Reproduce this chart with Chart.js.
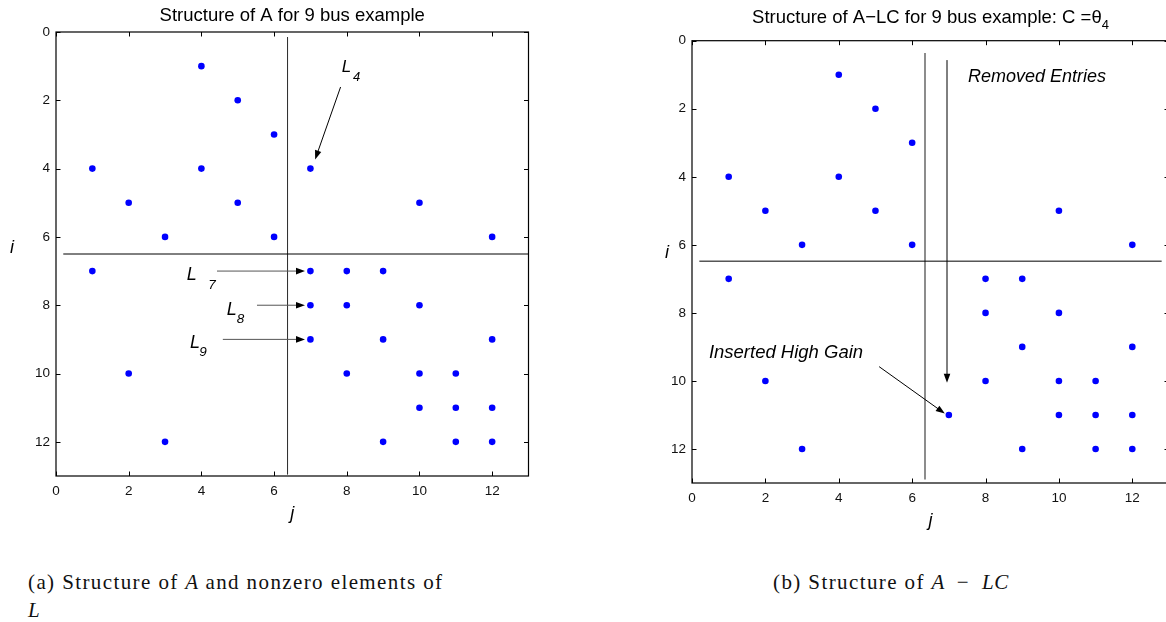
<!DOCTYPE html>
<html>
<head>
<meta charset="utf-8">
<title>Structure of A and A-LC</title>
<script src="https://cdn.jsdelivr.net/npm/chart.js@4.4.1/dist/chart.umd.min.js"></script>
<style>
    html, body { margin: 0; padding: 0; background: #fff; width: 1166px; height: 622px; overflow: hidden; }
    .panel { position: absolute; top: 0; }
    #panelA { left: 0; }
    #panelB { left: 636px; }
    .caption { position: absolute; font-family: "Liberation Serif", "Times New Roman", serif; font-size: 21px; line-height: 28px; color: #111; letter-spacing: 1.4px; white-space: nowrap; }
    .caption i { letter-spacing: 0.6px; }
</style>
</head>
<body>
<div class="panel" id="panelA"><canvas id="chartA" width="560" height="530"></canvas></div>
<div class="panel" id="panelB"><canvas id="chartB" width="560" height="530"></canvas></div>
<div class="caption" style="left:28px; top:568px;">(a) Structure of <i>A</i> and nonzero elements of<br><i>L</i></div>
<div class="caption" style="left:773px; top:568px;">(b) Structure of <i>A</i>&ensp;&minus;&ensp;<i>LC</i></div>

<script>
// ---- data -------------------------------------------------------------
const tickValues = [0, 2, 4, 6, 8, 10, 12];

// nonzero entries of A: column j, row i
const colsA = [4, 5, 6, 1, 4, 7, 2, 5, 10, 3, 6, 12, 1, 7, 8, 9, 7, 8, 10, 7, 9, 12, 2, 8, 10, 11, 10, 11, 12, 3, 9, 11, 12];
const rowsA = [1, 2, 3, 4, 4, 4, 5, 5, 5, 6, 6, 6, 7, 7, 7, 7, 8, 8, 8, 9, 9, 9, 10, 10, 10, 10, 11, 11, 11, 12, 12, 12, 12];

// nonzero entries of A - LC (column 7 entries removed, one high gain inserted)
const colsALC = [4, 5, 6, 1, 4, 2, 5, 10, 3, 6, 12, 1, 8, 9, 8, 10, 9, 12, 2, 8, 10, 11, 7, 10, 11, 12, 3, 9, 11, 12];
const rowsALC = [1, 2, 3, 4, 4, 5, 5, 5, 6, 6, 6, 7, 7, 7, 8, 8, 9, 9, 10, 10, 10, 10, 11, 11, 11, 11, 12, 12, 12, 12];

// partition lines between state blocks
const splitA   = { hj: [0.2, 13],   hi: [6.5, 6.5],   vj: [6.37, 6.37], vi: [0.15, 12.95] };
const splitALC = { hj: [0.2, 12.8], hi: [6.48, 6.48], vj: [6.35, 6.35], vi: [0.36, 12.9] };

const toPoints = (xs, ys) => xs.map((v, k) => ({ x: v, y: ys[k] }));

// ---- drawing helpers --------------------------------------------------
function drawArrow(ctx, x0, y0, x1, y1, color, headColor) {
    const ang = Math.atan2(y1 - y0, x1 - x0);
    const len = 9, half = 3.3;
    ctx.strokeStyle = color;
    ctx.lineWidth = 1;
    ctx.beginPath();
    ctx.moveTo(x0, y0);
    ctx.lineTo(x1 - Math.cos(ang) * len * 0.8, y1 - Math.sin(ang) * len * 0.8);
    ctx.stroke();
    ctx.fillStyle = headColor;
    ctx.beginPath();
    ctx.moveTo(x1, y1);
    ctx.lineTo(x1 - Math.cos(ang) * len - Math.sin(ang) * half, y1 - Math.sin(ang) * len + Math.cos(ang) * half);
    ctx.lineTo(x1 - Math.cos(ang) * len + Math.sin(ang) * half, y1 - Math.sin(ang) * len - Math.cos(ang) * half);
    ctx.closePath();
    ctx.fill();
}

// title with optional subscript pieces, centred on the plot area
function drawTitle(ctx, parts, cx, baseline) {
    const main = '18.5px "Liberation Sans", Arial, sans-serif';
    const sub = '13px "Liberation Sans", Arial, sans-serif';
    let total = 0;
    parts.forEach(p => { ctx.font = p.sub ? sub : main; total += ctx.measureText(p.text).width; });
    let x = cx - total / 2;
    ctx.fillStyle = '#000';
    ctx.textAlign = 'left';
    ctx.textBaseline = 'alphabetic';
    parts.forEach(p => {
        ctx.font = p.sub ? sub : main;
        ctx.fillText(p.text, x, p.sub ? baseline + 6 : baseline);
        x += ctx.measureText(p.text).width;
    });
}

// MATLAB-like box: frame, inward ticks on all four sides, labels and annotations
const matlabBox = {
    id: 'matlabBox',
    afterDatasetsDraw(chart, args, opts) {
        const { ctx, chartArea: a, scales: { x, y } } = chart;
        ctx.save();

        ctx.strokeStyle = '#000';
        ctx.lineWidth = 1.2;
        ctx.strokeRect(a.left, a.top, a.right - a.left, a.bottom - a.top);

        ctx.lineWidth = 1;
        ctx.beginPath();
        x.ticks.forEach(t => {
            const px = Math.round(x.getPixelForValue(t.value)) + 0.5;
            ctx.moveTo(px, a.bottom); ctx.lineTo(px, a.bottom - 4.5);
            ctx.moveTo(px, a.top); ctx.lineTo(px, a.top + 4.5);
        });
        y.ticks.forEach(t => {
            const py = Math.round(y.getPixelForValue(t.value)) + 0.5;
            ctx.moveTo(a.left, py); ctx.lineTo(a.left + 4.5, py);
            ctx.moveTo(a.right, py); ctx.lineTo(a.right - 4.5, py);
        });
        ctx.stroke();

        (opts.arrows || []).forEach(ar => {
            drawArrow(ctx,
                x.getPixelForValue(ar.from[0]), y.getPixelForValue(ar.from[1]),
                x.getPixelForValue(ar.to[0]), y.getPixelForValue(ar.to[1]),
                ar.color || '#000', '#000');
        });

        ctx.fillStyle = '#000';
        ctx.textAlign = 'left';
        ctx.textBaseline = 'middle';
        (opts.notes || []).forEach(n => {
            ctx.font = 'italic ' + n.size + 'px "Liberation Sans", Arial, sans-serif';
            ctx.fillText(n.text, x.getPixelForValue(n.at[0]), y.getPixelForValue(n.at[1]));
        });

        // axis labels
        ctx.font = 'italic 18px "Liberation Sans", Arial, sans-serif';
        ctx.textAlign = 'center';
        ctx.fillText('j', (a.left + a.right) / 2, a.bottom + 38);
        ctx.fillText('i', a.left + opts.iOffset[0], (a.top + a.bottom) / 2 + opts.iOffset[1]);

        drawTitle(ctx, opts.title, (a.left + a.right) / 2, opts.titleBaseline);
        ctx.restore();
    }
};

function buildChart(id, cfg) {
    const tickFont = { family: '"Liberation Sans", Arial, sans-serif', size: 13.5 };
    return new Chart(document.getElementById(id), {
        type: 'scatter',
        data: {
            datasets: [
                {
                    data: cfg.points,
                    backgroundColor: '#0000ff',
                    borderWidth: 0,
                    pointRadius: 3.3,
                    pointHoverRadius: 3.3
                },
                {
                    data: toPoints(cfg.split.hj, cfg.split.hi),
                    showLine: true,
                    borderColor: '#000',
                    borderWidth: 1,
                    pointRadius: 0
                },
                {
                    data: toPoints(cfg.split.vj, cfg.split.vi),
                    showLine: true,
                    borderColor: cfg.vColor,
                    borderWidth: cfg.vWidth,
                    pointRadius: 0
                }
            ]
        },
        options: {
            responsive: false,
            animation: false,
            events: [],
            layout: { padding: { top: cfg.top, right: cfg.right, left: 0, bottom: 0 } },
            plugins: {
                legend: { display: false },
                title: { display: false },
                tooltip: { enabled: false },
                matlabBox: cfg.box
            },
            scales: {
                x: {
                    type: 'linear',
                    min: 0,
                    max: 13,
                    afterBuildTicks: s => { s.ticks = tickValues.map(v => ({ value: v })); },
                    afterFit: s => { s.height = cfg.xHeight; },
                    grid: { display: false, drawTicks: false },
                    border: { display: false },
                    ticks: { padding: 7, color: '#111', font: tickFont, maxRotation: 0 }
                },
                y: {
                    type: 'linear',
                    reverse: true,
                    min: 0,
                    max: 13,
                    afterBuildTicks: s => { s.ticks = tickValues.map(v => ({ value: v })); },
                    afterFit: s => { s.width = 56; },
                    grid: { display: false, drawTicks: false },
                    border: { display: false },
                    ticks: { padding: 6, color: '#111', font: tickFont }
                }
            }
        },
        plugins: [matlabBox]
    });
}

buildChart('chartA', {
    points: toPoints(colsA, rowsA),
    split: splitA,
    vColor: '#333',
    vWidth: 1,
    top: 32,
    right: 31.5,
    xHeight: 54,
    box: {
        title: [{ text: 'Structure of A for 9 bus example' }],
        titleBaseline: 21,
        iOffset: [-44, -6],
        arrows: [
            { from: [7.83, 1.61], to: [7.13, 3.73] },
            { from: [4.43, 7], to: [6.85, 7], color: '#555' },
            { from: [5.53, 8], to: [6.85, 8], color: '#555' },
            { from: [4.59, 9], to: [6.85, 9], color: '#555' }
        ],
        notes: [
            { text: 'L', at: [7.86, 1.02], size: 17 },
            { text: '4', at: [8.17, 1.32], size: 13 },
            { text: 'L', at: [3.6, 7.12], size: 18 },
            { text: '7', at: [4.19, 7.41], size: 13.5 },
            { text: 'L', at: [4.7, 8.14], size: 18 },
            { text: '8', at: [4.97, 8.4], size: 13.5 },
            { text: 'L', at: [3.69, 9.11], size: 18 },
            { text: '9', at: [3.94, 9.37], size: 13.5 }
        ]
    }
});

buildChart('chartB', {
    points: toPoints(colsALC, rowsALC),
    split: splitALC,
    vColor: '#808080',
    vWidth: 1.8,
    top: 40.7,
    right: 27,
    xHeight: 47,
    box: {
        title: [{ text: 'Structure of A\u2212LC for 9 bus example: C =\u03b8' }, { text: '4', sub: true }],
        titleBaseline: 22.5,
        iOffset: [-25, -9],
        arrows: [
            { from: [6.95, 0.57], to: [6.95, 10.05] },
            { from: [5.1, 9.58], to: [6.89, 10.96] }
        ],
        notes: [
            { text: 'Removed Entries', at: [7.52, 1.07], size: 18 },
            { text: 'Inserted High Gain', at: [0.46, 9.17], size: 18.5 }
        ]
    }
});
</script>
</body>
</html>
